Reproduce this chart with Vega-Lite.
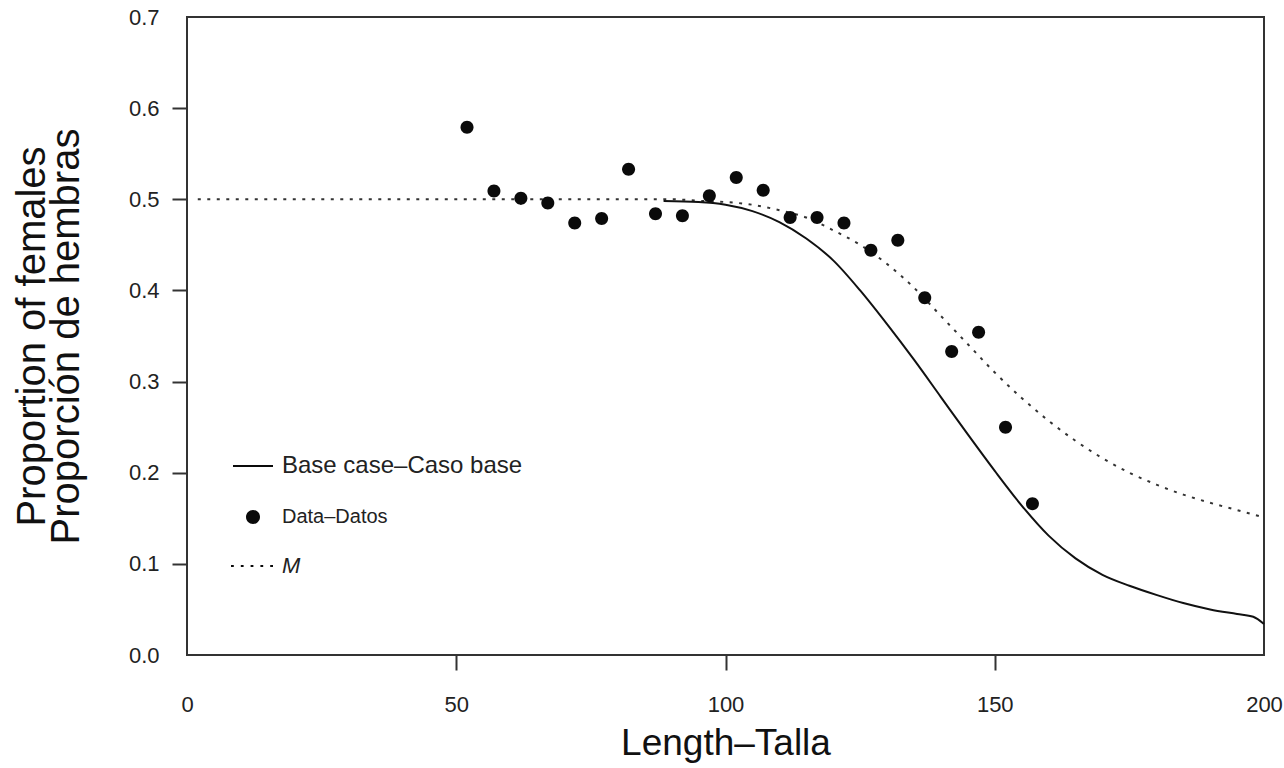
{
  "$schema": "https://vega.github.io/schema/vega-lite/v6.json",
  "autosize": {"type": "none"},
  "padding": {"left": 187, "top": 17, "right": 20, "bottom": 113},
  "width": 1077,
  "height": 638,
  "background": "white",
  "config": {
    "font": "Liberation Sans",
    "view": {"stroke": "#333", "strokeWidth": 2},
    "axis": {"grid": false, "domain": false, "labelColor": "#222", "titleColor": "#111", "tickColor": "#333", "tickWidth": 2, "tickSize": 15, "titleFontWeight": "normal", "labelFont": "Liberation Sans", "titleFont": "Liberation Sans"}
  },
  "datasets": {
    "points": [
      {"length": 52, "prop": 0.579},
      {"length": 57, "prop": 0.509},
      {"length": 62, "prop": 0.501},
      {"length": 67, "prop": 0.496},
      {"length": 72, "prop": 0.474},
      {"length": 77, "prop": 0.479},
      {"length": 82, "prop": 0.533},
      {"length": 87, "prop": 0.484},
      {"length": 92, "prop": 0.482},
      {"length": 97, "prop": 0.504},
      {"length": 102, "prop": 0.524},
      {"length": 107, "prop": 0.510},
      {"length": 112, "prop": 0.480},
      {"length": 117, "prop": 0.480},
      {"length": 122, "prop": 0.474},
      {"length": 127, "prop": 0.444},
      {"length": 132, "prop": 0.455},
      {"length": 137, "prop": 0.392},
      {"length": 142, "prop": 0.333},
      {"length": 147, "prop": 0.354},
      {"length": 152, "prop": 0.250},
      {"length": 157, "prop": 0.166}
    ],
    "base": [
      {"length": 88.5, "prop": 0.498},
      {"length": 95, "prop": 0.497},
      {"length": 100, "prop": 0.494},
      {"length": 105, "prop": 0.487},
      {"length": 110, "prop": 0.475},
      {"length": 115, "prop": 0.457},
      {"length": 120, "prop": 0.433},
      {"length": 125, "prop": 0.400},
      {"length": 130, "prop": 0.363},
      {"length": 135, "prop": 0.324},
      {"length": 140, "prop": 0.283},
      {"length": 145, "prop": 0.242},
      {"length": 150, "prop": 0.202},
      {"length": 155, "prop": 0.164},
      {"length": 160, "prop": 0.131},
      {"length": 165, "prop": 0.106},
      {"length": 170, "prop": 0.088},
      {"length": 175, "prop": 0.076},
      {"length": 180, "prop": 0.066},
      {"length": 185, "prop": 0.057},
      {"length": 190, "prop": 0.050},
      {"length": 195, "prop": 0.045},
      {"length": 198, "prop": 0.042},
      {"length": 200, "prop": 0.034}
    ],
    "mcurve": [
      {"length": 2, "prop": 0.5},
      {"length": 90, "prop": 0.5},
      {"length": 96, "prop": 0.498},
      {"length": 100, "prop": 0.497},
      {"length": 105, "prop": 0.494},
      {"length": 110, "prop": 0.488},
      {"length": 115, "prop": 0.480},
      {"length": 120, "prop": 0.466},
      {"length": 125, "prop": 0.450},
      {"length": 130, "prop": 0.429},
      {"length": 135, "prop": 0.403},
      {"length": 140, "prop": 0.372},
      {"length": 145, "prop": 0.341},
      {"length": 150, "prop": 0.310},
      {"length": 155, "prop": 0.282},
      {"length": 160, "prop": 0.257},
      {"length": 165, "prop": 0.235},
      {"length": 170, "prop": 0.216},
      {"length": 175, "prop": 0.200},
      {"length": 180, "prop": 0.187},
      {"length": 185, "prop": 0.176},
      {"length": 190, "prop": 0.167},
      {"length": 195, "prop": 0.159},
      {"length": 200, "prop": 0.151}
    ]
  },
  "encoding": {
    "x": {
      "field": "length", "type": "quantitative",
      "scale": {"domain": [0, 200], "nice": false, "zero": false},
      "axis": {
        "title": "Length\u2013Talla", "titleFontSize": 37, "titlePadding": 10,
        "values": [0, 50, 100, 150, 200], "labelFontSize": 22, "labelPadding": 24,
        "labelFlush": false, "labelOverlap": false,
        "tickColor": {"condition": {"test": "datum.value == 0 || datum.value == 200", "value": "transparent"}, "value": "#333"}
      }
    },
    "y": {
      "field": "prop", "type": "quantitative",
      "scale": {"domain": [0, 0.7], "nice": false},
      "axis": {
        "title": ["Proportion of females", "Proporci\u00f3n de hembras"], "titleFontSize": 40, "titleLineHeight": 34, "titlePadding": 42,
        "values": [0, 0.1, 0.2, 0.3, 0.4, 0.5, 0.6, 0.7], "format": ".1f", "labelFontSize": 22, "labelPadding": 13,
        "labelFlush": false, "labelOverlap": false,
        "tickColor": {"condition": {"test": "datum.value == 0 || datum.value == 0.7", "value": "transparent"}, "value": "#333"}
      }
    }
  },
  "layer": [
    {
      "data": {"name": "mcurve"},
      "mark": {"type": "line", "color": "#333", "strokeWidth": 2, "strokeDash": [3, 6.5], "interpolate": "monotone"},
      "encoding": {}
    },
    {
      "data": {"name": "base"},
      "mark": {"type": "line", "color": "#111", "strokeWidth": 2, "interpolate": "monotone"},
      "encoding": {}
    },
    {
      "data": {"name": "points"},
      "transform": [{"calculate": "'Data\u2013Datos'", "as": "series"}],
      "mark": {"type": "point", "filled": true, "color": "#0a0a0a", "opacity": 1, "size": 1380},
      "encoding": {
        "shape": {
          "field": "series", "type": "nominal",
          "scale": {
            "domain": ["Base case\u2013Caso base", "Data\u2013Datos", "M"],
            "range": [
              "M-1,-0.05L1,-0.05L1,0.05L-1,0.05Z",
              "M0,-0.35A0.35,0.35 0 1,1 0,0.35A0.35,0.35 0 1,1 0,-0.35Z",
              "M-1.1,-0.055L-0.96,-0.055L-0.96,0.055L-1.1,0.055ZM-0.61,-0.055L-0.47,-0.055L-0.47,0.055L-0.61,0.055ZM-0.12,-0.055L0.02,-0.055L0.02,0.055L-0.12,0.055ZM0.37,-0.055L0.51,-0.055L0.51,0.055L0.37,0.055ZM0.86,-0.055L1,-0.055L1,0.055L0.86,0.055Z"
            ]
          },
          "legend": {
            "title": null, "orient": "none", "legendX": 45, "legendY": 428,
            "padding": 0, "symbolSize": 1600, "labelOffset": 8, "rowPadding": 18, "labelLimit": 500,
            "labelFont": "Liberation Sans", "labelColor": "#222",
            "labelFontSize": {"expr": "datum.value === 'Data\u2013Datos' ? 20 : (datum.value === 'M' ? 22 : 24)"},
            "labelFontStyle": {"expr": "datum.value === 'M' ? 'italic' : 'normal'"},
            "symbolFillColor": "#111"
          }
        }
      }
    }
  ]
}
